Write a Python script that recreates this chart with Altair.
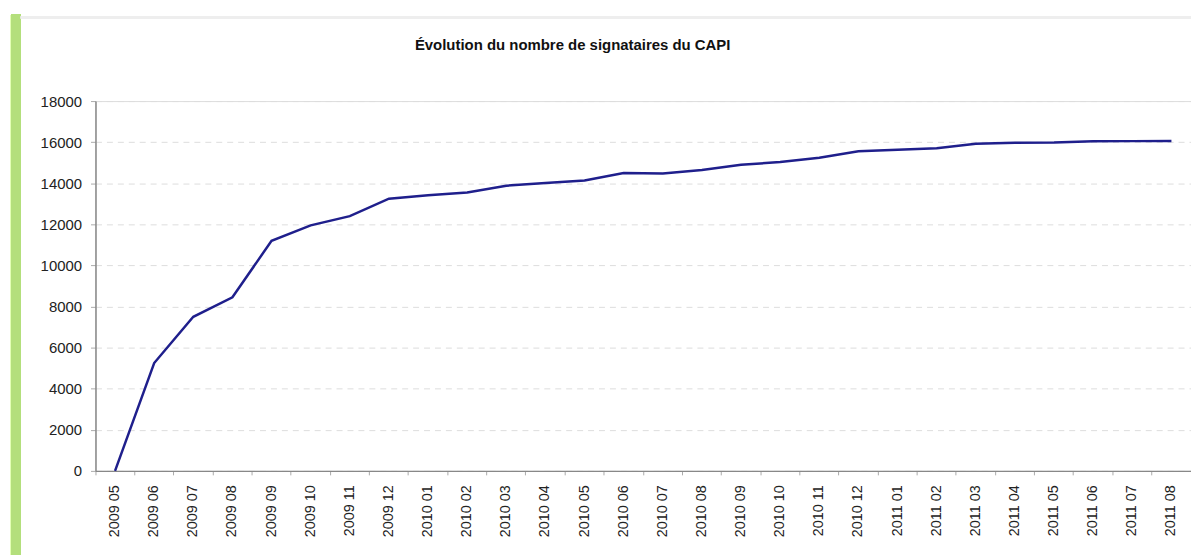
import altair as alt
import pandas as pd

months = ["2009 05", "2009 06", "2009 07", "2009 08", "2009 09", "2009 10", "2009 11", "2009 12",
          "2010 01", "2010 02", "2010 03", "2010 04", "2010 05", "2010 06", "2010 07", "2010 08",
          "2010 09", "2010 10", "2010 11", "2010 12", "2011 01", "2011 02", "2011 03", "2011 04",
          "2011 05", "2011 06", "2011 07", "2011 08"]
signataires = [0, 5250, 7500, 8450, 11200, 11950, 12400, 13250,
               13420, 13550, 13880, 14010, 14130, 14500, 14480, 14640,
               14900, 15030, 15240, 15560, 15630, 15700, 15920, 15970,
               15980, 16040, 16050, 16060]
y_ticks = [0, 2000, 4000, 6000, 8000, 10000, 12000, 14000, 16000, 18000]

df = pd.DataFrame({"mois": months, "n": signataires})

W, H = 1102, 372
FONT = "Liberation Sans"

base = alt.Chart(df)

line = base.mark_line(color="#1f1f8c", strokeWidth=2.5).encode(
    x=alt.X("mois:N", sort=months, title=None,
            scale=alt.Scale(type="band", paddingInner=0, paddingOuter=0),
            axis=alt.Axis(labelAngle=-90, labelFont=FONT, labelFontSize=14.5, labelColor="#222222",
                          labelPadding=10, tickSize=4, tickColor="#aaaaaa", bandPosition=0,
                          domainColor="#888888", domainWidth=1.5, grid=False)),
    y=alt.Y("n:Q", title=None,
            scale=alt.Scale(domain=[0, 18000], nice=False),
            axis=alt.Axis(values=y_ticks, format="d", labelFont=FONT, labelFontSize=15,
                          labelColor="#222222", labelPadding=9, tickSize=5, tickColor="#aaaaaa",
                          domainColor="#888888", domainWidth=1.5, gridColor="#dddddd",
                          gridDash=[6, 5], gridWidth=1)),
)

green_bar = base.mark_rule(color="#b4df7c", strokeWidth=10).encode(
    x=alt.value(-80), y=alt.value(-87), y2=alt.value(H + 90)
)
top_line = base.mark_rule(color="#eeeeee", strokeWidth=2).encode(
    x=alt.value(-75), x2=alt.value(W + 10), y=alt.value(-84)
)

chart = alt.layer(green_bar, top_line, line).properties(
    width=W, height=H,
    title=alt.Title("Évolution du nombre de signataires du CAPI", font=FONT, fontSize=15,
                    fontWeight="bold", color="#111111", anchor="middle", frame="group",
                    dx=-71, offset=-44),
    autosize=alt.AutoSizeParams(type="none"),
    padding={"left": 88, "top": 92, "right": 0, "bottom": 83},
).configure_view(stroke="#888888", strokeWidth=1.5).configure(background="white")

chart.save("out.html", embed_options={"renderer": "svg", "actions": False})
